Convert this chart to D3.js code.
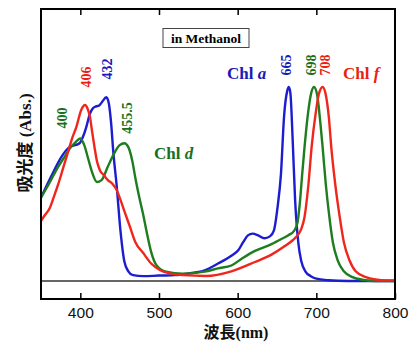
<!DOCTYPE html>
<html>
<head>
<meta charset="utf-8">
<script src="https://cdn.jsdelivr.net/npm/d3@7"></script>
<style>
  body { margin: 0; background: #fff; }
  svg { display: block; }
</style>
</head>
<body>
<div id="chart"></div>
<script>
// absorption spectra (wavelength nm / relative absorbance)
const chlA_nm = [350, 363, 376, 386, 393, 399, 404, 408, 412, 416, 420, 424, 428, 433, 436, 439, 442, 446, 451, 456, 461, 467, 480, 500, 520, 540, 558, 575, 592, 601, 607, 613, 619, 626, 634, 641, 646, 651, 655, 659, 663, 665, 667, 670, 673, 677, 681, 686, 693, 700, 715, 740, 800]
const chlA_abs = [0.43, 0.54, 0.64, 0.69, 0.70, 0.71, 0.75, 0.80, 0.86, 0.89, 0.90, 0.905, 0.925, 0.947, 0.92, 0.82, 0.66, 0.50, 0.26, 0.10, 0.05, 0.03, 0.025, 0.028, 0.03, 0.04, 0.055, 0.09, 0.13, 0.16, 0.20, 0.235, 0.244, 0.235, 0.22, 0.23, 0.26, 0.39, 0.55, 0.85, 0.98, 1.0, 0.97, 0.72, 0.42, 0.20, 0.10, 0.05, 0.025, 0.012, 0.004, 0.0, 0.0]

const chlD_nm = [350, 360, 372, 380, 388, 395, 400, 405, 410, 415, 421, 427, 435, 442, 450, 456, 461, 466, 470, 475, 480, 485, 490, 497, 509, 530, 558, 575, 592, 607, 622, 643, 655, 664, 672, 676, 679, 682, 685, 689, 693, 697, 701, 705, 708, 712, 716, 721, 727, 735, 746, 760, 775, 800]
const chlD_abs = [0.43, 0.50, 0.59, 0.64, 0.69, 0.72, 0.735, 0.70, 0.63, 0.56, 0.51, 0.52, 0.59, 0.65, 0.70, 0.71, 0.69, 0.62, 0.53, 0.43, 0.34, 0.24, 0.15, 0.08, 0.048, 0.038, 0.048, 0.065, 0.08, 0.12, 0.155, 0.19, 0.215, 0.235, 0.26, 0.30, 0.40, 0.55, 0.69, 0.85, 0.96, 1.0, 0.96, 0.82, 0.69, 0.50, 0.35, 0.20, 0.108, 0.05, 0.02, 0.006, 0.0, 0.0]

const chlF_nm = [350, 355, 361, 366, 372, 378, 384, 390, 395, 401, 406, 409, 412, 415, 418, 421, 425, 430, 435, 441, 446, 450, 456, 463, 470, 480, 490, 501, 515, 530, 560, 592, 622, 643, 660, 670, 677, 681, 685, 690, 694, 699, 703, 708, 712, 716, 719, 724, 729, 735, 742, 750, 763, 775, 790, 800]
const chlF_abs = [0.31, 0.34, 0.375, 0.43, 0.50, 0.58, 0.66, 0.74, 0.795, 0.88, 0.907, 0.89, 0.85, 0.77, 0.69, 0.62, 0.57, 0.545, 0.52, 0.50, 0.47, 0.43, 0.36, 0.28, 0.20, 0.144, 0.09, 0.057, 0.038, 0.03, 0.026, 0.05, 0.098, 0.136, 0.18, 0.21, 0.24, 0.27, 0.33, 0.50, 0.69, 0.86, 0.96, 1.0, 0.96, 0.84, 0.69, 0.50, 0.35, 0.20, 0.108, 0.05, 0.02, 0.008, 0.003, 0.003]

// peak labels
const peakNames = ["400", "406", "432", "455.5", "665", "698", "708"]
const peakSeries = ["d", "f", "a", "d", "a", "d", "f"]

const xTicks = [400, 500, 600, 700, 800]

const colors = { a: "#1c1cd0", d: "#1e7d1e", f: "#f0261c" }
const textColors = { a: "#1a1ab8", d: "#1b701b", f: "#ea1f16" }

// plot area
const margin = { top: 9, right: 16, bottom: 45, left: 41 }
const W = 411, H = 344
const width = W - margin.left - margin.right
const height = H - margin.top - margin.bottom

const svg = d3.select("#chart").append("svg")
    .attr("width", W)
    .attr("height", H)

const g = svg.append("g")
    .attr("transform", `translate(${margin.left},${margin.top})`)

const x = d3.scaleLinear().domain([350, 800]).range([0, width])
// zero line at 281px, peaks (1.0) at 87px
const y = d3.scaleLinear().domain([-0.0928, 1.402]).range([height, 0])

// zero baseline
g.append("line")
    .attr("x1", 0).attr("x2", width)
    .attr("y1", y(0)).attr("y2", y(0))
    .attr("stroke", "#333").attr("stroke-width", 1.5)

// spectra
const line = d3.line()
    .curve(d3.curveMonotoneX)
    .x(d => x(d[0]))
    .y(d => y(d[1]))

const series = [
    { key: "a", nm: chlA_nm, abs: chlA_abs },
    { key: "d", nm: chlD_nm, abs: chlD_abs },
    { key: "f", nm: chlF_nm, abs: chlF_abs }
]
series.forEach(s => {
    g.append("path")
        .datum(d3.zip(s.nm, s.abs))
        .attr("fill", "none")
        .attr("stroke", colors[s.key])
        .attr("stroke-width", 2.4)
        .attr("stroke-linejoin", "round")
        .attr("d", line)
})

// bottom axis, ticks pointing inward
const xAxis = g.append("g")
    .attr("transform", `translate(0,${height})`)
    .call(d3.axisBottom(x).tickValues(xTicks).tickSize(-6).tickPadding(9).tickFormat(d3.format("d")))
xAxis.select(".domain").remove()
xAxis.selectAll("line").attr("stroke", "#000").attr("stroke-width", 1.5)
xAxis.selectAll("text")
    .attr("fill", "#111")
    .style("font-family", "'Liberation Sans', Arial, sans-serif")
    .style("font-size", "14px")
    .attr("textLength", 26)
    .attr("lengthAdjust", "spacingAndGlyphs")

// top ticks
const topAxis = g.append("g")
    .call(d3.axisTop(x).tickValues([400, 500, 600, 700]).tickSize(-6).tickFormat(""))
topAxis.select(".domain").remove()
topAxis.selectAll("line").attr("stroke", "#000").attr("stroke-width", 1.5)

// frame
g.append("rect")
    .attr("width", width).attr("height", height)
    .attr("fill", "none").attr("stroke", "#000").attr("stroke-width", 2)

const serif = "'Liberation Serif', 'Times New Roman', serif"
const cjk = "'Noto Sans CJK JP', 'Noto Sans CJK SC', sans-serif"

// solvent box
svg.append("rect")
    .attr("x", 163).attr("y", 28.5).attr("width", 86).attr("height", 19)
    .attr("fill", "#fff").attr("stroke", "#444").attr("stroke-width", 1)
svg.append("text")
    .attr("x", 206).attr("y", 43)
    .attr("text-anchor", "middle")
    .style("font-family", serif).style("font-weight", "bold").style("font-size", "13.5px")
    .text("in Methanol")

// peak wavelength labels (rotated)
const labelPos = {
    "400": [62.5, 118], "406": [86, 77], "432": [107, 69], "455.5": [127, 118],
    "665": [286.5, 65], "698": [311, 65], "708": [325, 65]
}
peakNames.forEach((name, i) => {
    const p = labelPos[name]
    svg.append("text")
        .attr("transform", `translate(${p[0]},${p[1]}) rotate(-90)`)
        .attr("text-anchor", "middle")
        .attr("dy", "0.35em")
        .attr("fill", textColors[peakSeries[i]])
        .style("font-family", serif).style("font-weight", "bold").style("font-size", "14px")
        .text(name)
})

// series names
const chlNames = [["a", 227, 79], ["d", 154, 159], ["f", 343, 79]]
chlNames.forEach(c => {
    const t = svg.append("text")
        .attr("x", c[1]).attr("y", c[2])
        .attr("fill", textColors[c[0]])
        .style("font-family", serif).style("font-weight", "bold").style("font-size", "17px")
    t.append("tspan").text("Chl ")
    t.append("tspan").style("font-style", "italic").text(c[0])
})

// axis titles
const xt = svg.append("text")
    .attr("x", 236).attr("y", 338)
    .attr("text-anchor", "middle")
    .attr("fill", "#111")
    .style("font-weight", "bold").style("font-size", "16px")
xt.append("tspan").style("font-family", cjk).text("波長")
xt.append("tspan").style("font-family", serif).text("(nm)")

const yt = svg.append("text")
    .attr("transform", "translate(31,143) rotate(-90)")
    .attr("text-anchor", "middle")
    .attr("fill", "#111")
    .style("font-weight", "bold").style("font-size", "17px")
yt.append("tspan").style("font-family", cjk).text("吸光度")
yt.append("tspan").style("font-family", serif).text(" (Abs.)")
</script>
</body>
</html>
